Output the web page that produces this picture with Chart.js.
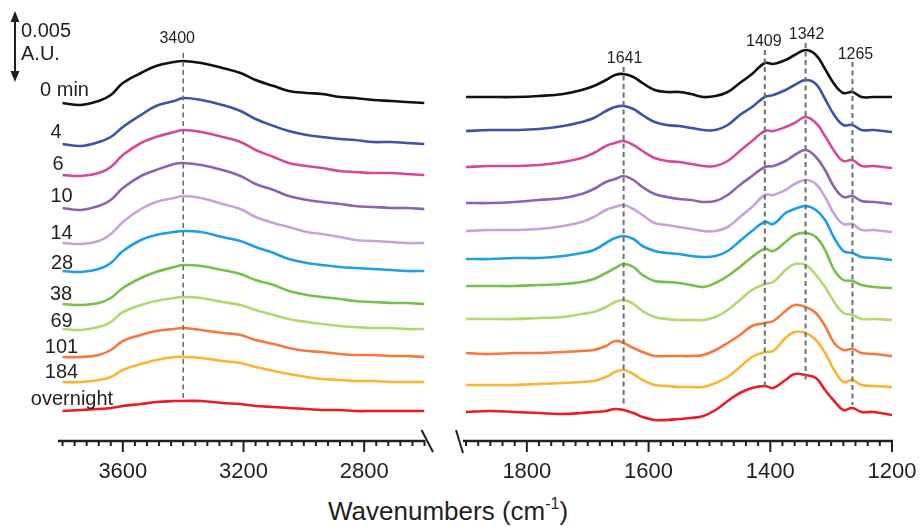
<!DOCTYPE html>
<html><head><meta charset="utf-8">
<script src="https://cdn.jsdelivr.net/npm/chart.js@4.4.1/dist/chart.umd.min.js"></script>
<style>
html,body{margin:0;padding:0;background:#fff;width:921px;height:527px;overflow:hidden;position:relative;font-family:"Liberation Sans",Arial,Helvetica,sans-serif;}
#cL{position:absolute;left:0;top:0;}
#cR{position:absolute;left:436px;top:0;}
#xtitle{position:absolute;left:328px;top:496px;font-size:26px;line-height:30px;color:#231f20;white-space:nowrap;}
#xtitle sup{font-size:16px;line-height:0;vertical-align:11px;}
</style></head><body>
<canvas id="cL" width="455" height="491"></canvas>
<canvas id="cR" width="484" height="491"></canvas>
<div id="xtitle">Wavenumbers (cm<sup>-1</sup>)</div>
<script>
// ---------- DATA ----------
// y unit: 1 unit = 0.005 A.U. / 71 (scale bar = 71 units); spectra are stacked with offsets
const seriesLabels = ['0 min','4','6','10','14','28','38','69','101','184','overnight'];
const seriesColors = ['#111111','#3a55a6','#d6489b','#8d63ae','#c8a3d7','#1da0e0','#79c04a','#b3d86b','#f6783a','#fbb533','#ed1c24'];

// left panel (O-H region)
const wnLeft = [3800,3740,3680,3640,3600,3540,3490,3430,3400,3340,3270,3210,3160,3100,3050,2990,2940,2880,2830,2770,2710,2660,2600];
const offsetsLeft = [338,297,266,232,198,170,137,112,84,59,30];
const left_0   = [0,-2,2,8,20,30,37,41,42,40,35,30,23,17,12,10,9,6,5,3,2,1,0];
const left_4   = [0,-2,2,7,17,29,38,43,46,44,39,33,25,18,13,9,7,5,4,2,2,1,0];
const left_6   = [0,-1,2,8,20,32,38,43,45,43,38,33,25,18,12,9,7,4,3,2,2,1,0];
const left_10  = [1,-1,3,9,21,33,39,45,46,44,39,33,25,19,13,9,7,5,3,2,1,1,0];
const left_14  = [0,-1,2,9,21,34,41,45,47,45,39,34,26,20,16,11,9,6,3,2,1,0,0];
const left_28  = [0,-1,2,8,20,31,36,39,40,39,34,30,24,18,12,8,6,4,3,2,1,0,0];
const left_38  = [0,-1,1,6,16,26,32,37,39,38,34,30,24,19,13,9,7,5,3,2,1,1,0];
const left_69  = [0,-1,2,7,17,24,28,31,32,31,27,24,19,14,10,7,5,3,2,1,1,0,0];
const left_101 = [0,0,2,7,16,22,26,28,29,27,24,22,17,13,9,6,5,3,2,2,1,1,0];
const left_184 = [0,0,2,5,12,18,22,25,25,24,21,19,15,11,8,5,3,2,1,1,0,0,0];
const left_on  = [0,1,2,3,5,7,9,10,10,10,8,7,5,4,3,2,1,1,0,0,0,0,0];

// right panel (fingerprint region)
const wnRight = [1900,1860,1820,1780,1740,1710,1690,1670,1655,1641,1625,1610,1590,1570,1550,1530,1510,1490,1470,1450,1430,1409,1395,1375,1360,1342,1325,1310,1295,1280,1265,1250,1230,1200];
const offsetsRight = [344,310,274,238,210,182,155,122,88,56,29];
const right_0   = [0,0,0,1,3,7,11,17,22,23,20,14,7,5,5,3,0,1,5,14,23,34,33,37,42,47,42,28,13,4,5,0,0,0];
const right_4   = [0,1,1,2,5,9,13,20,24,25,22,16,9,6,5,3,1,1,6,16,24,34,36,41,46,51,47,32,16,6,6,1,1,-1];
const right_6   = [0,1,1,2,5,9,14,21,24,26,22,16,9,6,5,3,1,1,6,16,26,36,36,40,44,50,44,31,16,6,7,1,1,-1];
const right_10  = [0,0,1,3,5,9,14,21,24,27,23,16,9,6,4,3,1,2,8,18,27,36,37,42,48,53,46,33,16,6,7,2,1,-1];
const right_14  = [0,1,1,2,5,9,14,21,24,26,22,16,8,6,4,2,0,0,4,14,24,36,36,41,47,51,47,34,17,7,7,1,1,-1];
const right_28  = [0,0,1,1,3,6,9,16,21,23,20,13,8,6,5,3,2,3,8,18,28,37,35,46,50,53,49,39,21,8,6,2,1,-1];
const right_38  = [0,0,0,1,2,4,7,13,18,22,19,11,5,4,3,1,-1,3,10,19,29,37,35,44,51,53,49,36,16,6,5,1,-1,-2];
const right_69  = [0,0,0,1,2,5,7,12,17,19,15,8,2,0,-1,-1,-1,2,9,19,29,35,37,49,55,54,44,32,17,6,4,0,0,-1];
const right_101 = [0,-1,0,0,1,2,3,7,12,10,5,1,-3,-3,-3,-3,-2,3,10,18,27,30,32,42,48,46,40,27,10,3,4,0,-1,-3];
const right_184 = [0,0,0,1,2,3,4,8,13,15,11,5,0,-1,-2,-2,-2,2,8,18,28,33,34,47,53,52,45,32,15,3,5,0,-1,-2];
const right_on  = [0,1,0,-1,-2,-1,0,1,3,2,-1,-5,-8,-8,-7,-6,-4,2,11,19,24,26,24,32,38,37,34,22,11,2,4,0,0,-3];

// axis ticks
const majorsLeft = [3600,3200,2800];
const majorsRight = [1800,1600,1400,1200];
const peakWnLeft = [3400];
const peakWnRight = [1641,1409,1342,1265];
const scaleBarAU = 0.005;

// ---------- LAYOUT ----------
const FONT = '"Liberation Sans", Arial, Helvetica, sans-serif';
const TEXT = '#231f20';
const SCALE_BAR_UNITS = 71;
const peakLayoutLeft  = {3400:{labelY:402,dx:-6,top:388,bottom:40,w:1.6}};
const peakLayoutRight = {1641:{labelY:382.5,dx:1,top:374,bottom:36,w:2},1409:{labelY:399.5,dx:-1,top:391,bottom:52,w:2},
                         1342:{labelY:406,dx:1,top:398,bottom:59,w:2},1265:{labelY:386,dx:3,top:379,bottom:36,w:2}};
const labelLift = [13,12,11,13,10,8,10,8,10,10,12];
const labelX = [64.5,56,58,61.5,61.5,62,61,61.5,61.5,61.5,72];

const leftSpectra = [left_0,left_4,left_6,left_10,left_14,left_28,left_38,left_69,left_101,left_184,left_on];
const rightSpectra = [right_0,right_4,right_6,right_10,right_14,right_28,right_38,right_69,right_101,right_184,right_on];

function decoPlugin(cfg){
  return {
    id:'deco'+cfg.side,
    afterDatasetsDraw(chart){
      const ctx=chart.ctx, xs=chart.scales.x, ys=chart.scales.y, a=chart.chartArea;
      ctx.save();
      // dashed peak markers
      ctx.strokeStyle='#6d6e71'; ctx.setLineDash([5,3.5]);
      cfg.peaks.forEach(wn=>{
        const p=cfg.layout[wn]; const x=xs.getPixelForValue(wn);
        ctx.lineWidth=p.w;
        ctx.beginPath(); ctx.moveTo(x,ys.getPixelForValue(p.top)); ctx.lineTo(x,ys.getPixelForValue(p.bottom)); ctx.stroke();
      });
      ctx.setLineDash([]);
      ctx.fillStyle=TEXT; ctx.font='16px '+FONT; ctx.textAlign='center'; ctx.textBaseline='middle';
      cfg.peaks.forEach(wn=>{const p=cfg.layout[wn]; ctx.fillText(String(wn), xs.getPixelForValue(wn)+p.dx, ys.getPixelForValue(p.labelY));});
      // axis line, ticks
      const y0=a.bottom;
      ctx.strokeStyle=TEXT; ctx.lineWidth=2.5;
      ctx.beginPath(); ctx.moveTo(a.left+cfg.lineFrom,y0); ctx.lineTo(a.right+cfg.lineTo,y0); ctx.stroke();
      ctx.lineWidth=2;
      xs.ticks.forEach(t=>{
        const v=Math.round(t.value);
        if(v%cfg.minor!==0) return;
        const x=xs.getPixelForValue(v);
        const len=cfg.majors.includes(v)?11:5;
        ctx.beginPath(); ctx.moveTo(x,y0-1); ctx.lineTo(x,y0+len); ctx.stroke();
      });
      // axis break
      ctx.lineWidth=2;
      ctx.beginPath();
      if(cfg.side==='L'){ ctx.moveTo(a.right-3,y0-11); ctx.lineTo(a.right+8.5,y0+11); }
      else { ctx.moveTo(a.left-10,y0-11); ctx.lineTo(a.left-3,y0+12); }
      ctx.stroke();
      if(cfg.extra) cfg.extra(chart,ctx,xs,ys,a);
      ctx.restore();
    }
  };
}

function leftExtra(chart,ctx,xs,ys,a){
  // scale bar
  const top=ys.getPixelForValue(430), bot=ys.getPixelForValue(430-SCALE_BAR_UNITS), x=15;
  ctx.strokeStyle=TEXT; ctx.fillStyle=TEXT; ctx.lineWidth=2;
  ctx.beginPath(); ctx.moveTo(x,top+6); ctx.lineTo(x,bot-6); ctx.stroke();
  ctx.beginPath(); ctx.moveTo(x,top); ctx.lineTo(x-4.5,top+11); ctx.lineTo(x+4.5,top+11); ctx.closePath(); ctx.fill();
  ctx.beginPath(); ctx.moveTo(x,bot); ctx.lineTo(x-4.5,bot-11); ctx.lineTo(x+4.5,bot-11); ctx.closePath(); ctx.fill();
  ctx.font='20px '+FONT; ctx.textAlign='left'; ctx.textBaseline='alphabetic';
  ctx.fillText(scaleBarAU.toFixed(3), 21, 37);
  ctx.fillText('A.U.', 21, 60);
  // series labels
  ctx.textAlign='center'; ctx.textBaseline='middle';
  seriesLabels.forEach((lab,i)=>{
    ctx.fillText(lab, labelX[i], ys.getPixelForValue(offsetsLeft[i]+labelLift[i]));
  });
}

function makeChart(id, wn, spectra, offsets, xmin, xmax, step, majors, padL, padR, deco){
  const datasets = spectra.map((s,i)=>({
    label: seriesLabels[i],
    data: wn.map((w,j)=>({x:w, y:offsets[i]+s[j]})),
    borderColor: seriesColors[i], borderWidth: 2.6, pointRadius: 0, fill: false,
    tension: 0.4
  }));
  return new Chart(document.getElementById(id), {
    type:'line',
    data:{datasets},
    options:{
      responsive:false, animation:false, events:[],
      layout:{padding:{left:padL,right:padR,top:0,bottom:0}},
      plugins:{legend:{display:false},tooltip:{enabled:false}},
      scales:{
        x:{type:'linear', reverse:true, min:xmin, max:xmax,
           grid:{display:false, drawTicks:false}, border:{display:false},
           ticks:{stepSize:step, autoSkip:false, maxRotation:0, minRotation:0, padding:18, color:TEXT,
                  includeBounds:false, font:{family:FONT, size:22},
                  callback:(v)=> majors.includes(Math.round(v)) ? String(Math.round(v)) : ''},
           afterFit:(s)=>{ s.height=50; s.paddingLeft=0; s.paddingRight=0; }},
        y:{display:false, min:0, max:441}
      }
    },
    plugins:[deco]
  });
}

makeChart('cL', wnLeft, leftSpectra, offsetsLeft, 2600, 3815, 40, majorsLeft, 58, 30.5,
  decoPlugin({side:'L', peaks:peakWnLeft, layout:peakLayoutLeft, minor:40, majors:majorsLeft, lineFrom:0, lineTo:0, extra:leftExtra}));
makeChart('cR', wnRight, rightSpectra, offsetsRight, 1200, 1900, 20, majorsRight, 30, 28,
  decoPlugin({side:'R', peaks:peakWnRight, layout:peakLayoutRight, minor:20, majors:majorsRight, lineFrom:-3, lineTo:1}));
</script>
</body></html>
